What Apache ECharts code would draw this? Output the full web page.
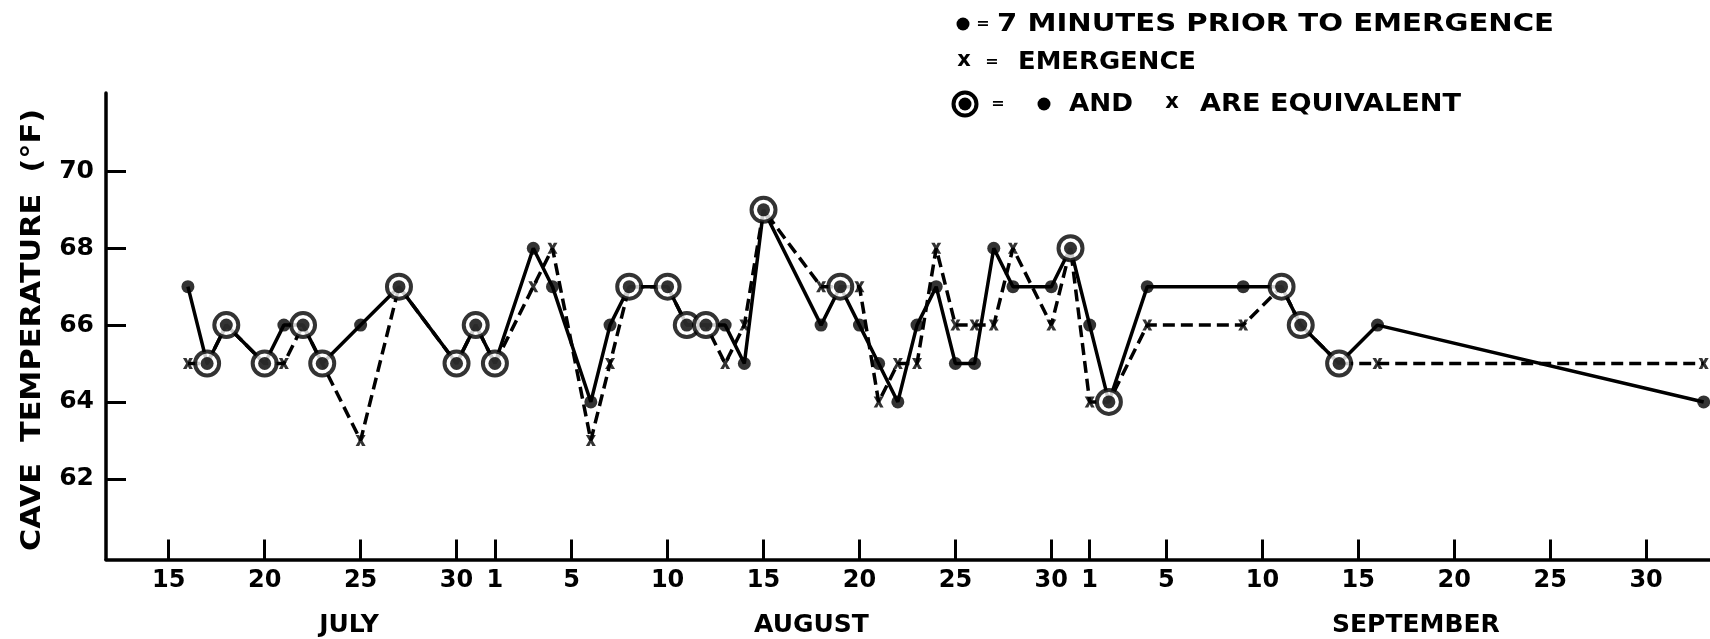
<!DOCTYPE html>
<html>
<head>
<meta charset="utf-8">
<script src="https://cdn.jsdelivr.net/npm/echarts@6/dist/echarts.min.js"></script>
<style>
html,body{margin:0;padding:0;background:#fff;}
#chart{width:1710px;height:639px;}
</style>
</head>
<body>
<div id="chart"></div>
<script>
// ---- data ----
var dates = ['07-16','07-17','07-18','07-20','07-21','07-22','07-23','07-25','07-27','07-30','07-31',
  '08-01','08-03','08-04','08-06','08-07','08-08','08-10','08-11','08-12','08-13','08-14','08-15','08-18','08-19',
  '08-20','08-21','08-22','08-23','08-24','08-25','08-26','08-27','08-28','08-30','08-31',
  '09-01','09-02','09-04','09-09','09-11','09-12','09-14','09-16','10-03'];
var prior = [67,65,66,65,66,66,65,66,67,65,66,
  65,68,67,64,66,67,67,66,66,66,65,69,66,67,66,65,64,66,67,65,65,68,67,67,68,
  66,64,67,67,67,66,65,66,64];
var emergence = [65,65,66,65,65,66,65,63,67,65,66,
  65,67,68,63,65,67,67,66,66,65,66,69,67,67,67,64,65,65,68,66,66,66,68,66,68,
  64,64,66,66,67,66,65,65,65];
var xTickDates = ['07-15','07-20','07-25','07-30','08-01','08-05','08-10','08-15','08-20','08-25','08-30',
  '09-01','09-05','09-10','09-15','09-20','09-25','09-30'];
var yTicks = [62,64,66,68,70];
var months = ['JULY','AUGUST','SEPTEMBER'];
var monthCenters = [9.4, 33.5, 65]; // days after July 15
var yName = 'CAVE  TEMPERATURE  (°F)';
var legendText = ['7 MINUTES PRIOR TO EMERGENCE','EMERGENCE','AND','ARE EQUIVALENT'];

// ---- helpers ----
function dayNum(s){
  var p = s.split('-');
  return Math.round((Date.UTC(1960, +p[0]-1, +p[1]) - Date.UTC(1960,6,15))/86400000);
}
var dayLabel = {};
xTickDates.forEach(function(s){ dayLabel[dayNum(s)] = String(+s.split('-')[1]); });
var xTicks = xTickDates.map(dayNum);
var xs = dates.map(dayNum);
var priorData = xs.map(function(d,i){return [d, prior[i]];});
var emerData = xs.map(function(d,i){return [d, emergence[i]];});
var eqData = [], xOnly = [];
xs.forEach(function(d,i){
  if (prior[i] === emergence[i]) eqData.push([d, prior[i]]); else xOnly.push([d, emergence[i]]);
});
var monthMap = {};
monthCenters.forEach(function(c,i){ monthMap[c] = months[i]; });

var FONT = '"DejaVu Sans", sans-serif';
var ctx = document.createElement('canvas').getContext('2d');
function fitText(str, x, y, width, size, rot){
  ctx.font = 'bold ' + size + 'px ' + FONT;
  var w = ctx.measureText(str).width;
  var sx = width / w;
  return {
    type:'text', x:x, y:y, rotation: rot || 0, scaleX: sx, originX:0, originY:0,
    style:{ text:str, font:'bold ' + size + 'px ' + FONT, fill:'#000',
      textAlign: rot ? 'center' : 'left', textVerticalAlign:'middle' },
    silent:true
  };
}
function plainText(str, x, y, size){
  return { type:'text', x:x, y:y, silent:true,
    style:{ text:str, font:'bold ' + size + 'px ' + FONT, fill:'#000', textAlign:'center', textVerticalAlign:'middle' } };
}

var XPATH = 'path://M0,0H3.6L5,2.6L6.4,0H10L6.8,5L10,10H6.4L5,7.4L3.6,10H0L3.2,5Z';

var chart = echarts.init(document.getElementById('chart'), null, {renderer:'canvas'});
var option = {
  backgroundColor:'#fff',
  animation:false,
  grid:{ left:106, right:0, top:93, bottom:79.5, containLabel:false },
  xAxis:[{
    type:'value', min:-3.27, max:80.33, position:'bottom',
    axisLine:{ show:true, onZero:false, lineStyle:{ color:'#000', width:3.5 } },
    axisTick:{ show:true, inside:true, length:20, customValues:xTicks, lineStyle:{ color:'#000', width:3 } },
    axisLabel:{ show:true, customValues:xTicks, margin:9, color:'#000', fontSize:24, fontWeight:'bold', fontFamily:FONT,
      formatter:function(v){ return dayLabel[Math.round(v)] || ''; } },
    splitLine:{ show:false }
  },{
    type:'value', min:-3.27, max:80.33, position:'bottom',
    axisLine:{ show:false }, axisTick:{ show:false },
    axisLabel:{ show:true, customValues:monthCenters, margin:53, color:'#000', fontSize:25, fontWeight:'bold', fontFamily:FONT,
      formatter:function(v){ return monthMap[v] || ''; } },
    splitLine:{ show:false }
  }],
  yAxis:{
    type:'value', min:59.9, max:72.04,
    axisLine:{ show:true, onZero:false, lineStyle:{ color:'#000', width:3.5 } },
    axisTick:{ show:true, inside:true, length:20, customValues:yTicks, lineStyle:{ color:'#000', width:3 } },
    axisLabel:{ show:true, customValues:yTicks, margin:12, color:'#000', fontSize:25, fontWeight:'bold', fontFamily:FONT },
    splitLine:{ show:false }
  },
  series:[
    { type:'line', data:priorData, symbol:'none', silent:true, z:2,
      lineStyle:{ color:'#000', width:3.5, type:'solid' } },
    { type:'line', data:emerData, symbol:'none', silent:true, z:2,
      lineStyle:{ color:'#000', width:3.5, type:[12,6] } },
    { type:'scatter', data:eqData, symbol:'circle', symbolSize:24, silent:true, z:3,
      itemStyle:{ color:'#fff', borderColor:'#000', borderWidth:4 } },
    { type:'scatter', data:priorData, symbol:'circle', symbolSize:13, silent:true, z:4,
      itemStyle:{ color:'#000' } },
    { type:'scatter', data:xOnly, symbol:XPATH, symbolSize:[10,11], silent:true, z:4,
      itemStyle:{ color:'#000' } }
  ],
  graphic:[
    fitText(yName, 33, 330, 442, 26, Math.PI/2),
    // legend row 1
    { type:'circle', shape:{cx:963, cy:24, r:6.5}, style:{fill:'#000'}, silent:true },
    plainText('=', 983, 24, 16),
    fitText(legendText[0], 997, 24, 557, 25),
    // legend row 2
    plainText('x', 964, 61, 21),
    plainText('=', 992, 62, 16),
    fitText(legendText[1], 1018, 62, 178, 25),
    // legend row 3
    { type:'circle', shape:{cx:965, cy:104, r:11.5}, style:{fill:'#fff', stroke:'#000', lineWidth:4}, silent:true },
    { type:'circle', shape:{cx:965, cy:104, r:6.5}, style:{fill:'#000'}, silent:true },
    plainText('=', 998, 104, 16),
    { type:'circle', shape:{cx:1044, cy:104, r:6.5}, style:{fill:'#000'}, silent:true },
    fitText(legendText[2], 1069, 104, 64, 25),
    plainText('x', 1172, 103, 21),
    fitText(legendText[3], 1200, 104, 261, 25)
  ]
};
chart.setOption(option);
</script>
</body>
</html>
